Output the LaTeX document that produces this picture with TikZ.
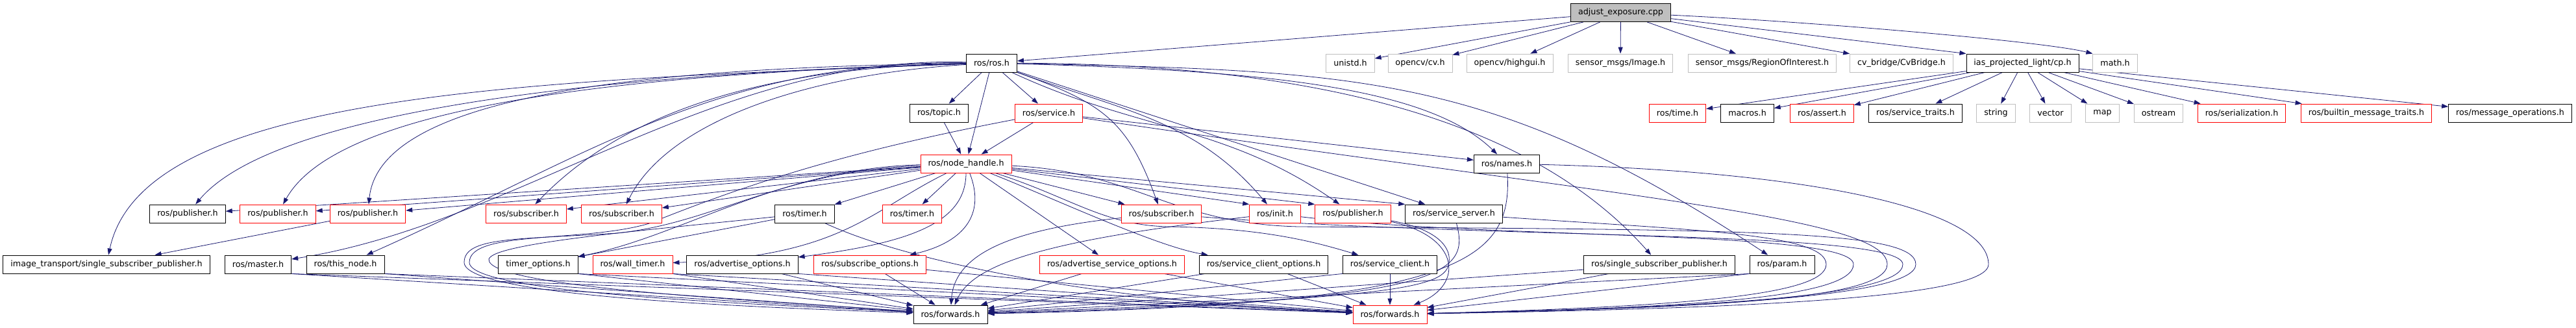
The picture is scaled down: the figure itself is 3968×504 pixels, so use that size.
\documentclass[tikz,border=0pt]{standalone}
\usepackage{fontspec}
\setmainfont{DejaVu Sans}
\usepackage{xcolor}
\definecolor{edgeblue}{RGB}{25, 25, 112}
\definecolor{extgray}{RGB}{191, 191, 191}
\definecolor{truncred}{RGB}{255, 0, 0}
\usepackage{tikz}
\usetikzlibrary{
    arrows.meta,
    backgrounds
}
\tikzstyle{filebox} = [
    rectangle,
    draw=black,
    fill=white,
    line width=0.9pt,
    minimum height=28pt,
    inner xsep=11.5pt,
    inner ysep=0pt,
    font=\fontsize{12.7}{15}\selectfont
]
\tikzstyle{truncbox} = [filebox, draw=truncred]
\tikzstyle{extbox} = [filebox, draw=extgray]
\tikzstyle{rootbox} = [filebox, fill=extgray]
\tikzstyle{dep} = [
    -{Triangle[length=10pt, width=7pt]},
    draw=edgeblue,
    line width=0.8pt
]

\begin{document}
\begin{tikzpicture}[x=1pt, y=1pt]
    \useasboundingbox (0,0) rectangle (3968,504);

    % Source file
    \node[rootbox] (adjexp) at (2496.5,484.5) {adjust\_exposure.cpp};

    % Direct includes
    \node[filebox] (ros) at (1527.5,407) {ros/ros.h};
    \node[extbox] (unistd) at (2080,407) {unistd.h};
    \node[extbox] (cv) at (2187.5,407) {opencv/cv.h};
    \node[extbox] (highgui) at (2325.5,407) {opencv/highgui.h};
    \node[extbox] (image) at (2496,407) {sensor\_msgs/Image.h};
    \node[extbox] (roi) at (2714.5,407) {sensor\_msgs/RegionOfInterest.h};
    \node[extbox] (cvbridge) at (2929,407) {cv\_bridge/CvBridge.h};
    \node[filebox] (cp) at (3115.5,407) {ias\_projected\_light/cp.h};
    \node[extbox] (math) at (3258,407) {math.h};

    % Second level
    \node[filebox] (topic) at (1446.5,330) {ros/topic.h};
    \node[truncbox] (service) at (1615.5,330) {ros/service.h};
    \node[truncbox] (time) at (2584,330) {ros/time.h};
    \node[filebox] (macros) at (2691.5,330) {macros.h};
    \node[truncbox] (assert) at (2806.5,330) {ros/assert.h};
    \node[filebox] (srvtraits) at (2950.5,330) {ros/service\_traits.h};
    \node[extbox] (string) at (3074.5,330) {string};
    \node[extbox] (vector) at (3158.5,330) {vector};
    \node[extbox] (map) at (3238.5,330) {map};
    \node[extbox] (ostream) at (3325,330) {ostream};
    \node[truncbox] (serial) at (3453,330) {ros/serialization.h};
    \node[truncbox] (builtin) at (3645,330) {ros/builtin\_message\_traits.h};
    \node[filebox] (msgops) at (3866.5,330) {ros/message\_operations.h};

    % Third level
    \node[truncbox] (nh) at (1488,252) {ros/node\_handle.h};
    \node[filebox] (names) at (2321,252) {ros/names.h};

    % Fourth level
    \node[filebox] (pubA) at (289,175) {ros/publisher.h};
    \node[truncbox] (pubB) at (428,175) {ros/publisher.h};
    \node[truncbox] (pubC) at (566.5,175) {ros/publisher.h};
    \node[truncbox] (subA) at (810.5,175) {ros/subscriber.h};
    \node[truncbox] (subB) at (957.5,175) {ros/subscriber.h};
    \node[filebox] (timerA) at (1239.5,175) {ros/timer.h};
    \node[truncbox] (timerB) at (1405,175) {ros/timer.h};
    \node[truncbox] (subC) at (1789,175) {ros/subscriber.h};
    \node[truncbox] (init) at (1964,175) {ros/init.h};
    \node[truncbox] (pubD) at (2084,175) {ros/publisher.h};
    \node[filebox] (srvserver) at (2239.5,175) {ros/service\_server.h};

    % Fifth level
    \node[filebox] (itssp) at (164,97) {image\_transport/single\_subscriber\_publisher.h};
    \node[filebox] (master) at (397.5,97) {ros/master.h};
    \node[filebox] (thisnode) at (532,97) {ros/this\_node.h};
    \node[filebox] (timeropt) at (829,97) {timer\_options.h};
    \node[truncbox] (walltimer) at (974.5,97) {ros/wall\_timer.h};
    \node[filebox] (advopt) at (1143.5,97) {ros/advertise\_options.h};
    \node[truncbox] (subopt) at (1340,97) {ros/subscribe\_options.h};
    \node[truncbox] (advsrvopt) at (1713,97) {ros/advertise\_service\_options.h};
    \node[filebox] (srvcliopt) at (1946.5,97) {ros/service\_client\_options.h};
    \node[filebox] (srvcli) at (2141,97) {ros/service\_client.h};
    \node[filebox] (ssp) at (2556,97) {ros/single\_subscriber\_publisher.h};
    \node[filebox] (param) at (2745,97) {ros/param.h};

    % Bottom
    \node[filebox] (fwdA) at (1464,20) {ros/forwards.h};
    \node[truncbox] (fwdB) at (2141,20) {ros/forwards.h};

    \begin{scope}[on background layer]
    \fill[white] (0,0) rectangle (3968,504);

    % adjust_exposure.cpp
    \draw[dep] (adjexp) -- (ros);
    \draw[dep] (adjexp) -- (unistd);
    \draw[dep] (adjexp) -- (cv);
    \draw[dep] (adjexp) -- (highgui);
    \draw[dep] (adjexp) -- (image);
    \draw[dep] (adjexp) -- (roi);
    \draw[dep] (adjexp) -- (cvbridge);
    \draw[dep] (adjexp) -- (cp.north west);
    \draw[dep] (adjexp) .. controls (2800,470) and (3150,440) .. (math.north west);

    % ias_projected_light/cp.h
    \draw[dep] (cp) -- (time);
    \draw[dep] (cp) -- (macros);
    \draw[dep] (cp) -- (assert);
    \draw[dep] (cp) -- (srvtraits);
    \draw[dep] (cp) -- (string);
    \draw[dep] (cp) -- (vector);
    \draw[dep] (cp) -- (map);
    \draw[dep] (cp) -- (ostream);
    \draw[dep] (cp) -- (serial);
    \draw[dep] (cp) -- (builtin);
    \draw[dep] (cp) -- (msgops);

    % ros/ros.h
    \draw[dep] (ros) -- (topic);
    \draw[dep] (ros) -- (nh);
    \draw[dep] (ros) -- (service);
    \draw[dep] (ros) .. controls (800,380) and (220,360) .. (itssp);
    \draw[dep] (ros) .. controls (900,390) and (420,330) .. (pubA);
    \draw[dep] (ros) .. controls (950,390) and (520,340) .. (pubB);
    \draw[dep] (ros) .. controls (1000,400) and (585,360) .. (pubC);
    \draw[dep] (ros) .. controls (1150,400) and (950,320) .. (subA);
    \draw[dep] (ros) .. controls (1250,390) and (1030,320) .. (subB);
    \draw[dep] (ros) .. controls (1100,420) and (800,160) .. (master);
    \draw[dep] (ros) .. controls (1100,410) and (900,260) .. (thisnode);
    \draw[dep] (ros) to[out=-20, in=110, looseness=1.2] (subC);
    \draw[dep] (ros) to[out=-20, in=130] (init);
    \draw[dep] (ros) to[out=-25, in=145] (pubD);
    \draw[dep] (ros) -- (srvserver);
    \draw[dep] (ros) .. controls (1950,395) and (2200,370) .. (names);
    \draw[dep] (ros) .. controls (2000,405) and (2350,330) .. (ssp);
    \draw[dep] (ros) .. controls (2100,395) and (2300,390) .. (param);

    % ros/topic.h, ros/service.h
    \draw[dep] (topic) -- (nh);
    \draw[dep] (service) -- (nh);
    \draw[dep] (service) -- (names);
    \draw[dep] (service) .. controls (1300,270) and (1150,220) .. (1000,160)
        .. controls (900,130) and (723,150) .. (723,100)
        .. controls (723,50) and (1200,35) .. (fwdA);
    \draw[dep] (service) .. controls (2500,200) and (2907,170) .. (2907,97)
        .. controls (2907,40) and (2600,30) .. (fwdB);

    % ros/node_handle.h
    \draw[dep] (nh) -- (pubA);
    \draw[dep] (nh) -- (pubB);
    \draw[dep] (nh) -- (pubC);
    \draw[dep] (nh) -- (subA);
    \draw[dep] (nh) -- (subB);
    \draw[dep] (nh) -- (timerA);
    \draw[dep] (nh) -- (timerB);
    \draw[dep] (nh) .. controls (1200,245) and (1050,140) .. (timeropt);
    \draw[dep] (nh) .. controls (1340,180) and (1300,110) .. (walltimer);
    \draw[dep] (nh) .. controls (1488,160) and (1400,130) .. (advopt);
    \draw[dep] (nh) .. controls (1520,170) and (1480,130) .. (subopt);
    \draw[dep] (nh) -- (advsrvopt);
    \draw[dep] (nh) .. controls (1620,200) and (1780,125) .. (srvcliopt);
    \draw[dep] (nh) .. controls (1650,200) and (1700,157) .. (1800,155)
        .. controls (1950,153) and (2030,130) .. (srvcli);
    \draw[dep] (nh) -- (subC);
    \draw[dep] (nh) -- (init.north west);
    \draw[dep] (nh) -- (pubD.north west);
    \draw[dep] (nh) -- (srvserver.north west);
    \draw[dep] (nh) .. controls (1200,240) and (1100,160) .. (950,145)
        .. controls (800,135) and (715,140) .. (715,100)
        .. controls (715,45) and (1200,30) .. (fwdA);
    \draw[dep] (nh) .. controls (1750,240) and (1800,160) .. (2000,155)
        .. controls (2700,150) and (2951,150) .. (2951,97)
        .. controls (2951,45) and (2600,30) .. (fwdB);

    % ros/names.h
    \draw[dep] (names) .. controls (2330,100) and (2250,35) .. (fwdA);
    \draw[dep] (names) .. controls (2800,240) and (3063,180) .. (3063,97)
        .. controls (3063,40) and (2600,28) .. (fwdB);

    % fourth level
    \draw[dep] (pubC) -- (itssp);
    \draw[dep] (timerA) -- (timeropt);
    \draw[dep] (timerA) .. controls (1000,150) and (760,130) .. (753,105)
        .. controls (748,60) and (1200,40) .. (fwdA);
    \draw[dep] (timerA) .. controls (1400,100) and (1700,40) .. (fwdB);
    \draw[dep] (subC) .. controls (1550,150) and (1470,110) .. (fwdA);
    \draw[dep] (subC) .. controls (2300,135) and (2931,150) .. (2931,97)
        .. controls (2931,45) and (2600,30) .. (fwdB);
    \draw[dep] (init) .. controls (1620,135) and (1500,100) .. (fwdA);
    \draw[dep] (init) .. controls (2300,135) and (2855,150) .. (2855,97)
        .. controls (2855,45) and (2600,30) .. (fwdB);
    \draw[dep] (pubD) .. controls (2220,150) and (2235,120) .. (2232,100)
        .. controls (2228,60) and (2150,45) .. (fwdA);
    \draw[dep] (pubD) .. controls (2250,140) and (2255,65) .. (fwdB);
    \draw[dep] (srvserver) .. controls (2265,80) and (2230,40) .. (fwdA);
    \draw[dep] (srvserver) .. controls (2600,150) and (2813,145) .. (2813,97)
        .. controls (2813,50) and (2600,32) .. (fwdB);

    % fifth level
    \draw[dep] (master.south east) -- (fwdA);
    \draw[dep] (master.south east) -- (fwdB);
    \draw[dep] (thisnode.south east) -- (fwdA);
    \draw[dep] (thisnode.south east) -- (fwdB);
    \draw[dep] (timeropt.south east) -- (fwdA);
    \draw[dep] (timeropt.south east) -- (fwdB);
    \draw[dep] (walltimer.south east) -- (fwdA);
    \draw[dep] (walltimer.south east) -- (fwdB);
    \draw[dep] (advopt) -- (fwdA);
    \draw[dep] (advopt.south east) -- (fwdB);
    \draw[dep] (subopt) -- (fwdA);
    \draw[dep] (subopt) -- (fwdB);
    \draw[dep] (advsrvopt) -- (fwdA);
    \draw[dep] (advsrvopt) -- (fwdB);
    \draw[dep] (srvcliopt) -- (fwdA);
    \draw[dep] (srvcliopt) -- (fwdB);
    \draw[dep] (srvcli.south west) -- (fwdA);
    \draw[dep] (srvcli) -- (fwdB);
    \draw[dep] (ssp) -- (fwdA);
    \draw[dep] (ssp) -- (fwdB);
    \draw[dep] (param.south west) -- (fwdA);
    \draw[dep] (param.south west) -- (fwdB);
    \end{scope}
\end{tikzpicture}
\end{document}
